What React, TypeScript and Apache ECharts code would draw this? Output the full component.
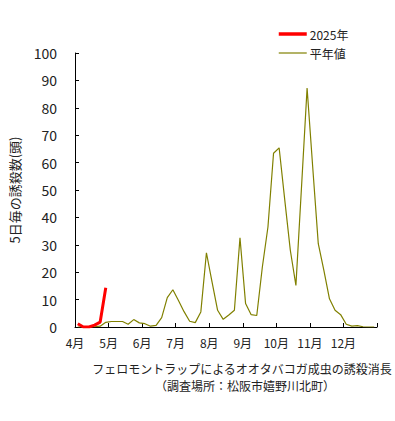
import React, { useEffect, useRef } from "react";
import * as echarts from "echarts";

const months = ["4月", "5月", "6月", "7月", "8月", "9月", "10月", "11月", "12月"];
const yTicks = [0, 10, 20, 30, 40, 50, 60, 70, 80, 90, 100];
const normalValues = [
  0, 0, 0, 0.1, 0.3, 1.7,
  2, 2, 2, 1, 2.7, 1.5,
  1.2, 0.3, 0.6, 3.4, 10.7, 13.6,
  9.7, 5.6, 2.1, 1.6, 5.5, 27.1,
  16.5, 6.1, 2.8, 4.4, 6.1, 32.6,
  8.6, 4.5, 4.2, 21.9, 36.5, 63.4,
  65.4, 46.5, 28, 15.2, 51, 87.2,
  58.5, 30.4, 20.7, 10.3, 6.1, 4.5,
  1, 0.3, 0.5, 0.1, 0, 0,
];
const values2025 = [1.2, 0, 0, 0.7, 1.8, 14.3];

const FONT = "'Noto Sans CJK JP', 'Noto Sans', sans-serif";

export default function App() {
  const ref = useRef<HTMLDivElement>(null);
  useEffect(() => {
    if (!ref.current) return;
    const chart = echarts.init(ref.current, null, { renderer: "svg" });
    const toPairs = (arr: number[]) => arr.map((v, i) => [i + 0.5, v]);
    chart.setOption({
      animation: false,
      textStyle: { fontFamily: FONT },
      grid: { left: 74, right: 18, top: 53, bottom: 94, containLabel: false },
      legend: {
        orient: "vertical",
        left: 272,
        top: 23,
        itemWidth: 28,
        itemHeight: 14,
        itemGap: 7,
        itemStyle: { opacity: 0 },
        data: [
          { name: "2025年", lineStyle: { width: 3.5, color: "#ff0000" } },
          { name: "平年値", lineStyle: { width: 1.2, color: "#808000" } },
        ],
        textStyle: { fontSize: 12, color: "#222", fontFamily: FONT, padding: [0, 0, 0, -2] },
      },
      xAxis: {
        type: "value",
        min: 0,
        max: months.length * 6,
        interval: 6,
        axisLine: { show: true, lineStyle: { color: "#000", width: 1 } },
        axisTick: { show: true, inside: true, length: 4, lineStyle: { color: "#000" } },
        splitLine: { show: false },
        axisLabel: {
          fontSize: 12,
          color: "#222",
          margin: 9,
          fontFamily: FONT,
          formatter: (v: number) => months[Math.round(v / 6)] ?? "",
        },
      },
      yAxis: {
        type: "value",
        min: yTicks[0],
        max: yTicks[yTicks.length - 1],
        interval: 10,
        name: "5日毎の誘殺数(頭)",
        nameLocation: "middle",
        nameGap: 54,
        nameTextStyle: { fontSize: 13, color: "#222", fontFamily: FONT },
        axisLine: { show: true, lineStyle: { color: "#000", width: 1 } },
        axisTick: { show: true, inside: true, length: 4, lineStyle: { color: "#000" } },
        splitLine: { show: false },
        axisLabel: { fontSize: 14, color: "#222", margin: 18, fontFamily: FONT },
      },
      series: [
        {
          name: "平年値",
          type: "line",
          symbol: "none",
          data: toPairs(normalValues),
          lineStyle: { color: "#808000", width: 1.2 },
          itemStyle: { color: "#808000" },
          z: 2,
        },
        {
          name: "2025年",
          type: "line",
          symbol: "none",
          data: toPairs(values2025),
          lineStyle: { color: "#ff0000", width: 3 },
          itemStyle: { color: "#ff0000" },
          z: 3,
        },
      ],
      graphic: [
        {
          type: "text",
          x: 242,
          y: 368,
          style: {
            text: "フェロモントラップによるオオタバコガ成虫の誘殺消長",
            fontSize: 12,
            fill: "#222",
            fontFamily: FONT,
            textAlign: "center",
            textVerticalAlign: "middle",
          },
        },
        {
          type: "text",
          x: 245,
          y: 385,
          style: {
            text: "（調査場所：松阪市嬉野川北町）",
            fontSize: 12,
            fill: "#222",
            fontFamily: FONT,
            textAlign: "center",
            textVerticalAlign: "middle",
          },
        },
      ],
    });
    return () => chart.dispose();
  }, []);
  return <div ref={ref} style={{ width: 395, height: 421, position: "absolute", left: 0, top: 0 }} />;
}
